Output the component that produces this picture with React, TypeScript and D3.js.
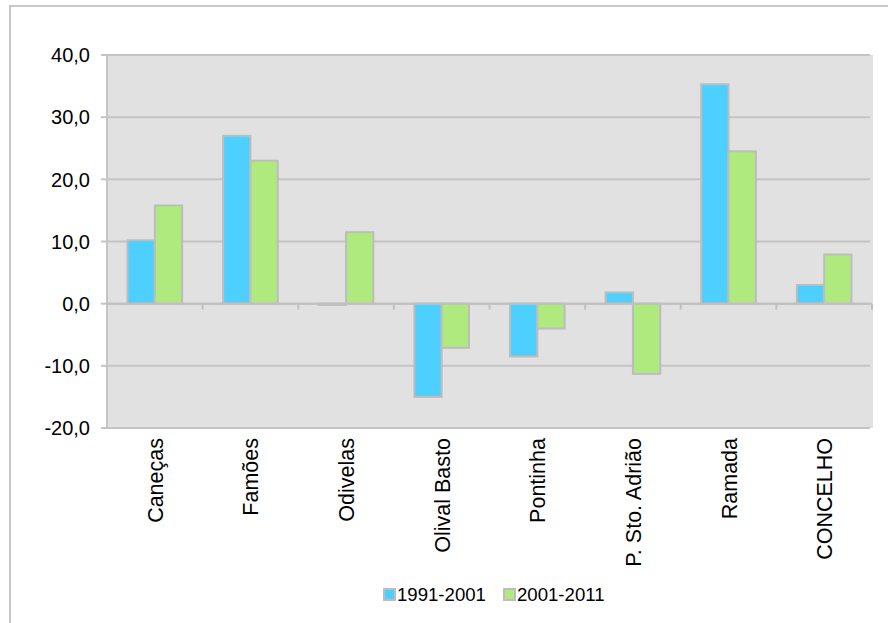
import React from "react";
import * as d3 from "d3";

const categories = ["Caneças", "Famões", "Odivelas", "Olival Basto", "Pontinha", "P. Sto. Adrião", "Ramada", "CONCELHO"];
const series1 = [10.2, 27.0, -0.2, -15.0, -8.5, 1.8, 35.3, 3.0];
const series2 = [15.8, 23.0, 11.5, -7.1, -4.0, -11.3, 24.5, 7.9];
const seriesNames = ["1991-2001", "2001-2011"];
const yTicks = [-20, -10, 0, 10, 20, 30, 40];

const colors = ["#4DCFFF", "#AEEA7E"];
const W = 888, H = 623;
const left = 107, right = 872, top = 55, bottom = 428;
const font = "'Liberation Sans', Arial, sans-serif";

export default function App() {
  const x = d3.scaleBand<string>().domain(categories).range([left, right]).padding(0);
  const y = d3.scaleLinear().domain([-20, 40]).range([bottom, top]);
  const step = x.step();
  const bw = step / 3.5;
  // comma decimal, plain hyphen for negatives
  const fmt = (v: number) => v.toFixed(1).replace(".", ",");
  const all = [series1, series2];

  return (
    <svg width={W} height={H} style={{ position: "absolute", left: 0, top: 0, background: "#fff", fontFamily: font }}>
      <rect x={10} y={6} width={900} height={640} fill="#fff" stroke="#c8c8c8" strokeWidth={2} />
      <rect x={left} y={top} width={right - left + 1} height={bottom - top} fill="#E1E1E1" />
      {yTicks.map((t) => (
        <g key={t}>
          <line x1={left} x2={right - 2} y1={y(t)} y2={y(t)} stroke="#C4C4C4" strokeWidth={2} />
          <line x1={101} x2={left} y1={y(t)} y2={y(t)} stroke="#C4C4C4" strokeWidth={2} />
          <text x={90} y={y(t)} dy="0.36em" textAnchor="end" fontSize={20} fill="#000">{fmt(t)}</text>
        </g>
      ))}
      <line x1={left} x2={left} y1={top} y2={bottom + 1} stroke="#C4C4C4" strokeWidth={2} />
      {all.map((s, si) =>
        s.map((v, i) => {
          const cx = (x(categories[i]) as number) + step / 2;
          const x0 = cx - bw + si * bw;
          const y0 = Math.min(y(v), y(0));
          const h = Math.abs(y(v) - y(0));
          return (
            <rect key={si + "-" + i} x={x0} y={y0} width={bw} height={Math.max(h, 1)}
              fill={colors[si]} stroke="#BDBDBD" strokeWidth={2} />
          );
        })
      )}
      <line x1={left} x2={right} y1={y(0)} y2={y(0)} stroke="#C0C0C0" strokeWidth={2} />
      {categories.map((c, i) => (
        <line key={"t" + i} x1={(x(c) as number) + step} x2={(x(c) as number) + step} y1={y(0)} y2={y(0) + 6}
          stroke="#C0C0C0" strokeWidth={2} />
      ))}
      {categories.map((c) => {
        const cx = (x(c) as number) + step / 2;
        return (
          <text key={c} transform={`translate(${cx + 8},438) rotate(-90)`} textAnchor="end" fontSize={21.5} fill="#000">{c}</text>
        );
      })}
      {seriesNames.map((n, i) => {
        const lx = 384 + i * 120;
        return (
          <g key={n}>
            <rect x={lx} y={589} width={11} height={11} fill={colors[i]} stroke="#BDBDBD" strokeWidth={2} />
            <text x={lx + 13} y={601} fontSize={18.6} fill="#000">{n}</text>
          </g>
        );
      })}
    </svg>
  );
}
